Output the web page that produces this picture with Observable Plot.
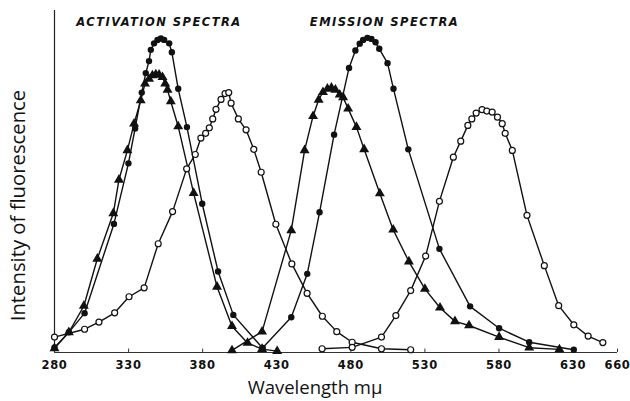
<!DOCTYPE html>
<html>
<head>
<meta charset="utf-8">
<script src="https://cdn.jsdelivr.net/npm/d3@7"></script>
<script src="https://cdn.jsdelivr.net/npm/@observablehq/plot@0.6"></script>
<style>
  html, body { margin: 0; padding: 0; background: #fff; }
  #chart svg { display: block; }
</style>
</head>
<body>
<div id="chart"></div>
<script>
// Wavelength ticks (mμ)
const xTicks = [280, 330, 380, 430, 480, 530, 580, 630, 660];

// Activation spectra — filled circles
const actDotW = [280, 289.7, 300.3, 320.1, 329.9, 334.4, 338.9, 341.6, 343.8, 345, 347.2, 349.5, 351.8, 354, 357.4, 359.2, 363.5, 369.4, 379.7, 390.4, 400.7, 420.4];
const actDotI = [1.5, 5.9, 11.5, 37.6, 55.3, 65.5, 76.0, 81.7, 85.2, 88.5, 90.4, 91.4, 91.8, 91.4, 90.4, 87.8, 77.1, 65.9, 43.5, 23.7, 11.0, 1.3];

// Activation spectra — triangles
const actTriW = [280, 289.7, 299.8, 308.9, 319.7, 323.5, 329.2, 333.7, 338.2, 341.1, 343.8, 346.1, 348.4, 350.6, 352.9, 354.7, 356.3, 358.5, 363.5, 373.9, 389.7, 399.8, 410.3, 420.1, 430.3];
const actTriI = [1.2, 5.9, 13.6, 27.4, 40.7, 50.5, 59.1, 66.9, 73.7, 78.6, 80.0, 81.0, 81.3, 81.2, 80.5, 78.6, 76.8, 73.4, 66.1, 46.6, 19.2, 7.7, 2.8, 1.0, 0.4];

// Activation spectra — open circles
const actOpenW = [280, 300.3, 310, 320.6, 330.3, 340.5, 350, 359.7, 369.2, 375, 378.8, 382, 384.5, 386.8, 389, 392.4, 395.1, 397.6, 399.2, 404.1, 409.3, 414.5, 419.5, 429.4, 440.2, 450.5, 460.8, 470.5, 480.9, 500.7, 520.4];
const actOpenI = [4.5, 6.8, 8.9, 11.6, 16.3, 18.9, 31.8, 41.2, 53.7, 57.9, 62.7, 64.1, 65.7, 68.3, 71.1, 74.0, 75.7, 76.0, 72.9, 68.3, 65.1, 59.4, 52.7, 37.5, 25.9, 17.3, 10.6, 6.1, 3.0, 1.1, 0.8];

// Emission spectra — triangles
const emTriW = [399.8, 420.1, 439.8, 448.8, 454.5, 458.3, 461.2, 464.2, 466.9, 469.6, 472.5, 474.8, 478.2, 483.8, 489, 499.6, 508.6, 519.2, 530, 540.2, 550.3, 559.8, 580.1, 600.4, 620.8];
const emTriI = [0.6, 6.1, 35.7, 59.1, 69.1, 73.9, 76.1, 77.1, 77.4, 76.8, 75.4, 74.6, 71.3, 65.9, 59.4, 46.5, 35.9, 26.6, 18.6, 13.1, 9.1, 7.9, 4.5, 1.4, 0.9];

// Emission spectra — filled circles
const emDotW = [420.4, 439.8, 450.6, 458.9, 468.7, 478.8, 483.1, 486, 488.3, 491.2, 493.9, 496.7, 499.2, 504.8, 508.8, 518.8, 539.8, 560.5, 580.1, 600.4, 630.5];
const emDotI = [1.3, 10.3, 23.0, 41.0, 63.7, 83.2, 88.3, 90.3, 91.4, 92.0, 91.7, 90.7, 88.8, 84.6, 77.1, 59.4, 30.3, 13.5, 7.1, 3.0, 0.8];

// Emission spectra — open circles
const emOpenW = [460.6, 480.9, 500.7, 510.4, 520.4, 530.5, 539.8, 549.2, 554.2, 559, 561.7, 564.6, 568.6, 571.8, 575.4, 579, 582.2, 584.2, 589, 598.9, 610.6, 620.3, 630.5, 640.2, 650.1];
const emOpenI = [1.1, 1.5, 4.5, 10.8, 18.1, 28.2, 44.2, 57.1, 61.8, 66.4, 68.3, 70.0, 71.0, 70.6, 70.3, 68.8, 66.9, 64.1, 59.1, 40.1, 25.4, 13.7, 8.1, 4.8, 2.9];

// Panel headings, placed in data units
const headings = ["ACTIVATION SPECTRA", "EMISSION SPECTRA"];
const headingX = [350.5, 502.7];
const headingY = 96.5;

const toRows = (w, i) => w.map((x, k) => ({x, y: i[k]}));
const actDot = toRows(actDotW, actDotI);
const actTri = toRows(actTriW, actTriI);
const actOpen = toRows(actOpenW, actOpenI);
const emTri = toRows(emTriW, emTriI);
const emDot = toRows(emDotW, emDotI);
const emOpen = toRows(emOpenW, emOpenI);

const lineOpts = {x: "x", y: "y", stroke: "#111", strokeWidth: 1.4};
const filledDot = {x: "x", y: "y", r: 3.2, fill: "#111", stroke: "none"};
const triDot = {x: "x", y: "y", r: 3.7, symbol: "triangle", fill: "#111", stroke: "none"};
const openDot = {x: "x", y: "y", r: 3, fill: "#fff", stroke: "#111", strokeWidth: 1.2};

const chart = Plot.plot({
  width: 630,
  height: 401,
  marginLeft: 54,
  marginRight: 13,
  marginTop: 10,
  marginBottom: 49,
  style: {background: "#fff", color: "#111"},
  x: {domain: [280, 660]},
  y: {domain: [0, 100]},
  marks: [
    Plot.ruleY([0], {stroke: "#333", strokeWidth: 1.2}),
    Plot.ruleX([280], {y1: 0, y2: 100, stroke: "#222", strokeWidth: 1.2}),
    Plot.ruleX(xTicks, {x: d => d, y1: 0, y2: 1, stroke: "#333", strokeWidth: 1}),
    Plot.axisX({
      ticks: xTicks,
      tickSize: 0,
      tickPadding: 8,
      tickFormat: d => String(d),
      label: null,
      fontSize: 11.5,
      fontWeight: "bold",
      fontFamily: "DejaVu Sans"
    }),
    Plot.axisY({ticks: [], label: null, tickSize: 0}),
    Plot.text(["Wavelength mμ"], {
      text: d => d, frameAnchor: "bottom", dy: 36, dx: -21,
      fontSize: 18.5, fontFamily: "Open Sans", lineAnchor: "middle", fill: "#111"
    }),
    Plot.text(["Intensity of fluorescence"], {
      text: d => d, frameAnchor: "left", textAnchor: "middle", dx: -36, dy: 24, rotate: -90,
      fontSize: 20.3, fontFamily: "Open Sans", lineAnchor: "middle", fill: "#111"
    }),
    Plot.text(headings, {
      x: (d, k) => headingX[k], y: () => headingY, text: d => d,
      fontSize: 11.5, fontWeight: "bold", fontStyle: "italic",
      fontFamily: "DejaVu Sans", fill: "#111"
    }),
    Plot.line(actDot, lineOpts),
    Plot.line(actTri, lineOpts),
    Plot.line(actOpen, lineOpts),
    Plot.line(emTri, lineOpts),
    Plot.line(emDot, lineOpts),
    Plot.line(emOpen, lineOpts),
    Plot.dot(actDot, filledDot),
    Plot.dot(actTri, triDot),
    Plot.dot(actOpen, openDot),
    Plot.dot(emTri, triDot),
    Plot.dot(emDot, filledDot),
    Plot.dot(emOpen, openDot)
  ]
});
// letter spacing for the headings and tick labels (not a Plot text option)
d3.select(chart).selectAll("text").each(function() {
  const t = this.textContent;
  if (headings.includes(t)) this.style.letterSpacing = "1.45px";
  else if (/^\d{3}$/.test(t)) this.style.letterSpacing = "0.7px";
});
document.getElementById("chart").appendChild(chart);
</script>
</body>
</html>
